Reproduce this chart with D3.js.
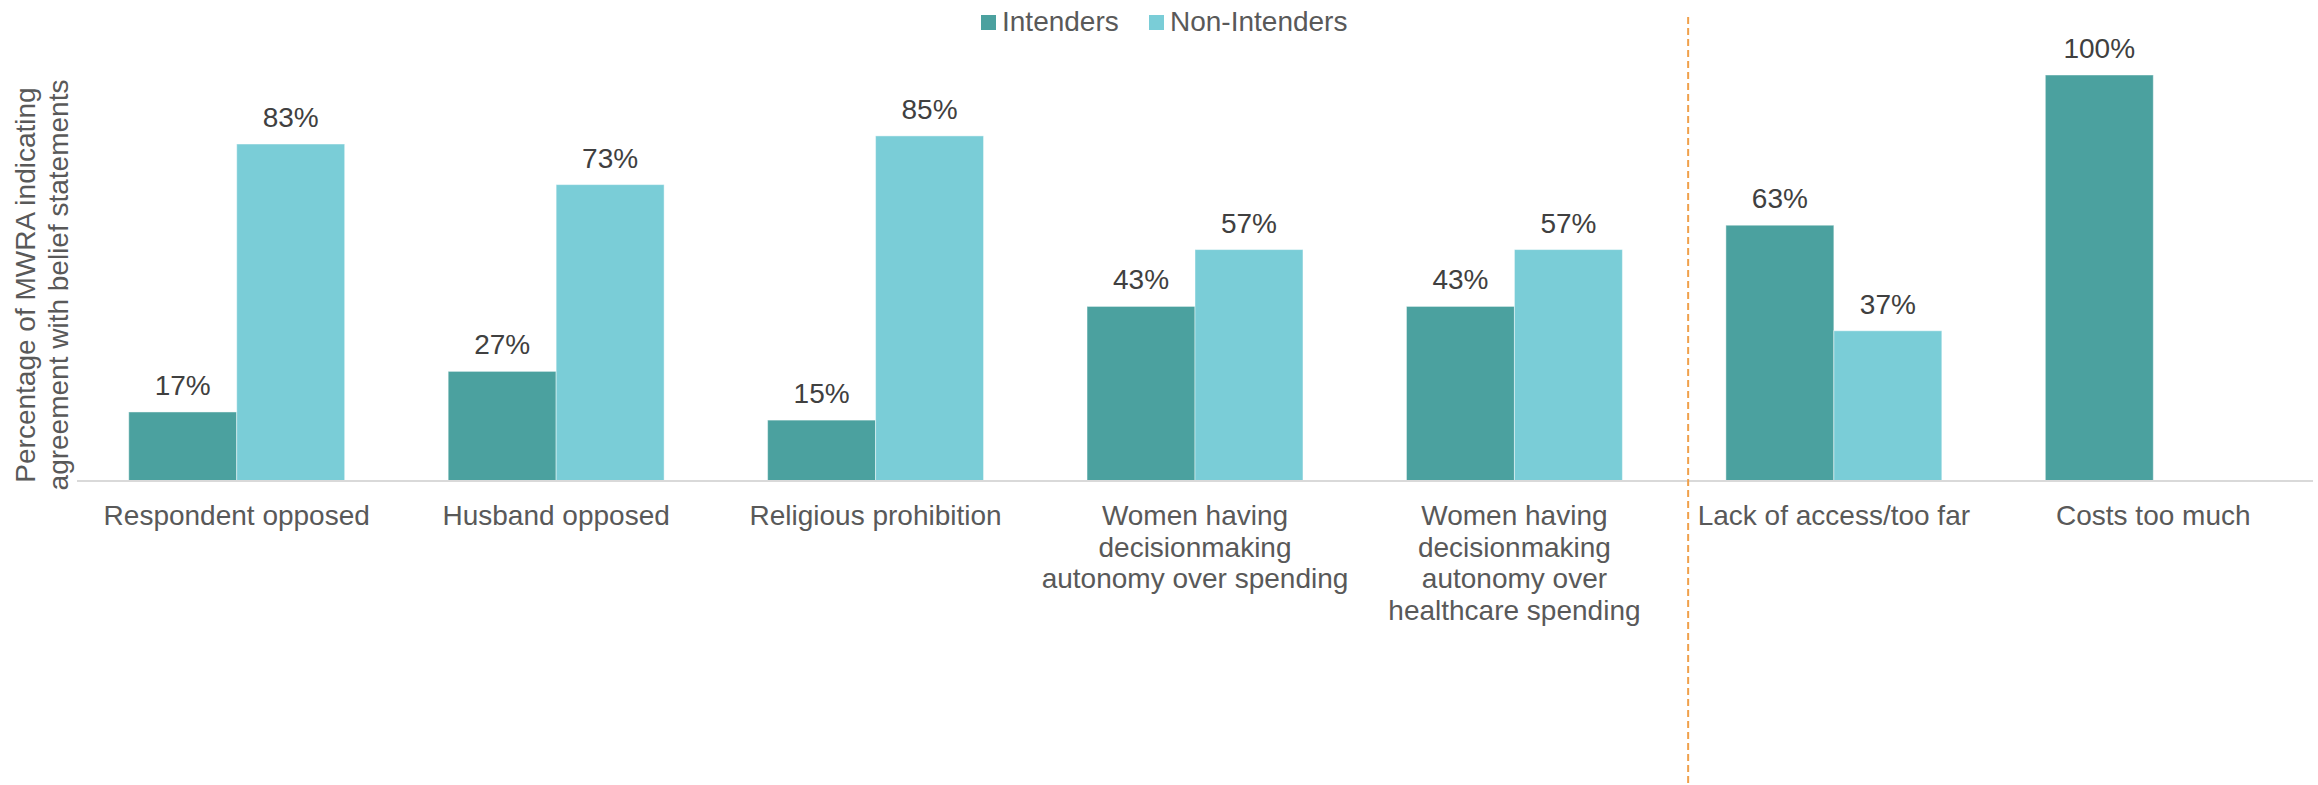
<!DOCTYPE html>
<html>
<head>
<meta charset="utf-8">
<script src="https://cdn.jsdelivr.net/npm/d3@7"></script>
<style>
  html, body { margin: 0; padding: 0; background: #ffffff; }
  svg { display: block; font-family: "Liberation Sans", Arial, sans-serif; }
</style>
</head>
<body>
<svg id="chart" width="2318" height="785"></svg>
<script>
// Belief statements (category label lines)
const categories = [
  ["Respondent opposed"],
  ["Husband opposed"],
  ["Religious prohibition"],
  ["Women having", "decisionmaking", "autonomy over spending"],
  ["Women having", "decisionmaking", "autonomy over", "healthcare spending"],
  ["Lack of access/too far"],
  ["Costs too much"]
];
const seriesNames = ["Intenders", "Non-Intenders"];
const intenders    = [17, 27, 15, 43, 43, 63, 100];
const nonIntenders = [83, 73, 85, 57, 57, 37, null];
const yTitleLines = ["Percentage of MWRA indicating", "agreement with belief statements"];

const colors = { "Intenders": "#4ba19f", "Non-Intenders": "#7acdd7" };
const fontSize = 28;

const svg = d3.select("#chart");
const W = 2318, H = 785;
const plot = { left: 77, right: 2313, top: 75, bottom: 481 };

const keys = categories.map((c, i) => i);
const x0 = d3.scaleBand()
  .domain(keys)
  .range([plot.left, plot.right])
  .paddingInner(0.324)
  .paddingOuter(0.162);
const x1 = d3.scaleBand()
  .domain(seriesNames)
  .range([0, x0.bandwidth()]);
const y = d3.scaleLinear().domain([0, 100]).range([plot.bottom, plot.top]);

const rows = keys.map(i => ({
  i,
  values: [
    { key: "Intenders", v: intenders[i] },
    { key: "Non-Intenders", v: nonIntenders[i] }
  ].filter(d => d.v !== null && d.v !== undefined)
}));

// Bars
const groups = svg.append("g").selectAll("g")
  .data(rows).join("g")
  .attr("transform", d => `translate(${x0(d.i)},0)`);

groups.selectAll("rect")
  .data(d => d.values).join("rect")
  .attr("x", d => x1(d.key))
  .attr("y", d => y(d.v))
  .attr("width", x1.bandwidth())
  .attr("height", d => y(0) - y(d.v))
  .attr("fill", d => colors[d.key])
  .attr("stroke", "#ffffff")
  .attr("stroke-opacity", 0.45)
  .attr("stroke-width", 1);

// Value labels
groups.selectAll("text")
  .data(d => d.values).join("text")
  .attr("x", d => x1(d.key) + x1.bandwidth() / 2)
  .attr("y", d => y(d.v) - 17)
  .attr("text-anchor", "middle")
  .attr("font-size", fontSize)
  .attr("fill", "#404040")
  .text(d => d.v + "%");

// Category axis
const xAxis = svg.append("g")
  .attr("transform", `translate(0,${plot.bottom})`)
  .call(d3.axisBottom(x0).tickSize(0).tickFormat(""));
xAxis.select(".domain").attr("stroke", "#d9d9d9").attr("stroke-width", 2)
  .attr("d", `M${plot.left},0H${plot.right}`);
xAxis.selectAll(".tick").each(function (i) {
  const t = d3.select(this).append("text")
    .attr("text-anchor", "middle")
    .attr("font-size", fontSize)
    .attr("fill", "#595959");
  categories[i].forEach((line, k) => {
    t.append("tspan").attr("x", 0).attr("y", 44 + k * 31.5).text(line);
  });
});

// Separator between attitude items and access/cost barriers
const sepX = plot.left + x0.step() * 5 + 14;
svg.append("line")
  .attr("x1", sepX).attr("x2", sepX)
  .attr("y1", 17).attr("y2", H)
  .attr("stroke", "#f0a04b")
  .attr("stroke-width", 2)
  .attr("stroke-dasharray", "7,4");

// Y-axis title
const yTitle = svg.append("text")
  .attr("transform", `translate(35,${285}) rotate(-90)`)
  .attr("text-anchor", "middle")
  .attr("font-size", fontSize)
  .attr("fill", "#595959");
yTitleLines.forEach((line, k) => {
  yTitle.append("tspan").attr("x", 0).attr("y", k * 33).text(line);
});

// Legend
const legend = svg.append("g");
const legendItems = [
  { key: "Intenders", x: 981 },
  { key: "Non-Intenders", x: 1149 }
];
legendItems.forEach(d => {
  legend.append("rect")
    .attr("x", d.x).attr("y", 15)
    .attr("width", 15).attr("height", 15)
    .attr("fill", colors[d.key]);
  legend.append("text")
    .attr("x", d.x + 21).attr("y", 31)
    .attr("font-size", fontSize)
    .attr("fill", "#595959")
    .text(d.key);
});
</script>
</body>
</html>
